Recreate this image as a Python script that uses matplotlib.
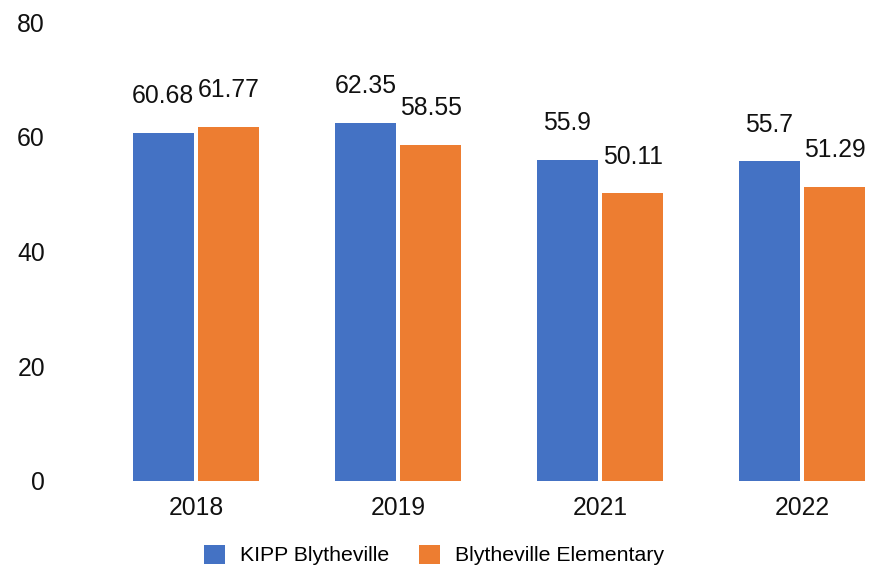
import numpy as np
import matplotlib.pyplot as plt

years = ['2018', '2019', '2021', '2022']
kipp = [60.68, 62.35, 55.9, 55.7]
elementary = [61.77, 58.55, 50.11, 51.29]
series_names = ['KIPP Blytheville', 'Blytheville Elementary']

blue = '#4472C4'
orange = '#ED7D31'

plt.rcParams['font.family'] = ['Liberation Sans', 'DejaVu Sans']

fig = plt.figure(figsize=(8.82, 5.65), dpi=100)
ax = fig.add_axes([95 / 882, 84 / 565, 787 / 882, 459 / 565])

x = np.arange(len(years))
w = 0.30
gap = 0.012
b1 = ax.bar(x - w / 2 - gap, kipp, w, color=blue, label=series_names[0])
b2 = ax.bar(x + w / 2 + gap, elementary, w, color=orange, label=series_names[1])

for bars, vals in [(b1, kipp), (b2, elementary)]:
    for rect, v in zip(bars, vals):
        ax.annotate(f'{v:g}', (rect.get_x() + rect.get_width() / 2, rect.get_height()),
                    xytext=(0, 21.5), textcoords='offset points',
                    ha='center', va='baseline', fontsize=17.8, color='#111111')

ax.set_xlim(-0.5, -0.5 + 787 / 202)
ax.set_ylim(0, 80)
ax.set_yticks([0, 20, 40, 60, 80])
ax.set_xticks(x)
ax.set_xticklabels(years)
ax.tick_params(axis='both', length=0, labelsize=17.8, colors='#111111')
ax.tick_params(axis='y', pad=36)
ax.tick_params(axis='x', pad=11)
for s in ax.spines.values():
    s.set_visible(False)

fig.legend(handles=[b1, b2], loc='center', bbox_to_anchor=(434 / 882, 10 / 565),
           ncol=2, frameon=False, fontsize=15.3, handlelength=1.0, handleheight=1.0,
           handletextpad=0.7, columnspacing=1.4)

fig.savefig('out.png', dpi=100)
